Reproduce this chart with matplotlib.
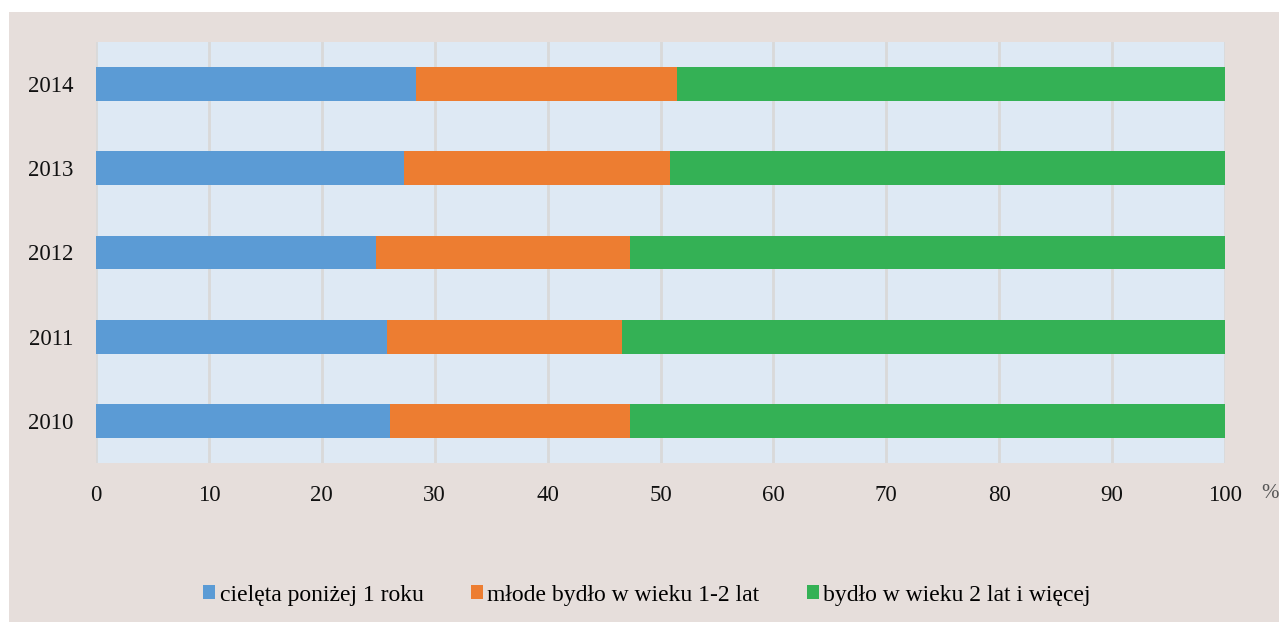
import numpy as np
import matplotlib.pyplot as plt
from matplotlib.patches import Rectangle

plt.rcParams['font.family'] = ['Liberation Serif', 'DejaVu Serif']

years = ['2010', '2011', '2012', '2013', '2014']
calves = [26.0, 25.8, 24.8, 27.3, 28.3]
young = [21.3, 20.8, 22.5, 23.5, 23.2]
adult = [52.7, 53.4, 52.7, 49.2, 48.5]

series = [
    ('cielęta poniżej 1 roku', calves, '#5b9bd5'),
    ('młode bydło w wieku 1-2 lat', young, '#ed7d31'),
    ('bydło w wieku 2 lat i więcej', adult, '#34b155'),
]

fig = plt.figure(figsize=(12.79, 6.22), dpi=100)
fig.patch.set_facecolor('white')
# beige panel behind the chart
fig.add_artist(Rectangle((9 / 1279, 0), 1 - 9 / 1279, 1 - 12 / 622,
                         transform=fig.transFigure, facecolor='#e6dedb',
                         edgecolor='none', zorder=-10))

ax = fig.add_axes([96 / 1279, 1 - 463 / 622, (1225 - 96) / 1279, (463 - 42) / 622])
ax.set_facecolor('#dee9f4')

y = np.arange(len(years))
left = np.zeros(len(years))
for label, vals, color in series:
    ax.barh(y, vals, left=left, height=0.4, color=color, label=label, zorder=3)
    left += np.array(vals)

ax.set_xlim(0, 100)
ax.set_ylim(-0.5, 4.5)
ax.set_xticks(range(0, 101, 10))
ax.set_yticks(y)
ax.set_yticklabels(years)
ax.tick_params(length=0, labelsize=16.5, colors='#111111')
ax.tick_params(axis='x', pad=16)
ax.tick_params(axis='y', pad=16)
ax.grid(axis='x', color='#d9d9d9', linewidth=2, zorder=1)
for s in ax.spines.values():
    s.set_visible(False)

fig.text(1270 / 1279, 1 - 494 / 622, '%', fontsize=15, color='#555555',
         ha='center', va='center')

leg = fig.legend(loc='center', bbox_to_anchor=(647 / 1279, 1 - 595 / 622), ncol=3,
                 frameon=False, fontsize=17, handlelength=0.5, handleheight=0.5,
                 handletextpad=0.2, columnspacing=2.0)

fig.savefig('out.png', dpi=100, facecolor=fig.get_facecolor())
